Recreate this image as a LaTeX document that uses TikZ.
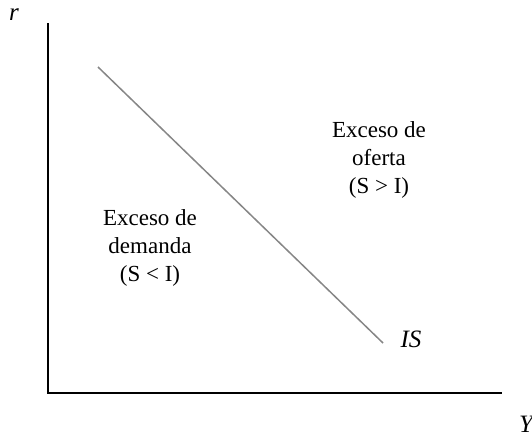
\documentclass[tikz,border=0pt]{standalone}
\usepackage{fontspec}
\setmainfont{Liberation Serif}
\begin{document}
\begin{tikzpicture}[x=1pt,y=-1pt,
  axis/.style={line width=1.4pt,black},
  curve/.style={line width=1.5pt,gray!95},
  blocktext/.style={align=center,font=\fontsize{23}{28}\selectfont,inner sep=0pt},
  lbl/.style={font=\fontsize{25}{28}\selectfont\itshape,inner sep=0pt,anchor=base}]
\useasboundingbox (0,0) rectangle (532,437);
\coordinate (o) at (48,393);
\coordinate (ytop) at (48,24);
\coordinate (xend) at (501,393);
\coordinate (is1) at (98,67);
\coordinate (is2) at (383,343);
\draw[axis,line cap=rect] (ytop) -- (o) -- (xend);
\draw[curve] (is1) -- (is2);
\node[lbl] (r) at (14,20) {r};
\node[lbl] (Y) at (526,432) {Y};
\node[lbl] (IS) at (411,347) {IS};
\node[blocktext] (of) at (379,160) {Exceso de\\oferta\\(S > I)};
\node[blocktext] (de) at (150,248) {Exceso de\\demanda\\(S < I)};
\end{tikzpicture}
\end{document}
